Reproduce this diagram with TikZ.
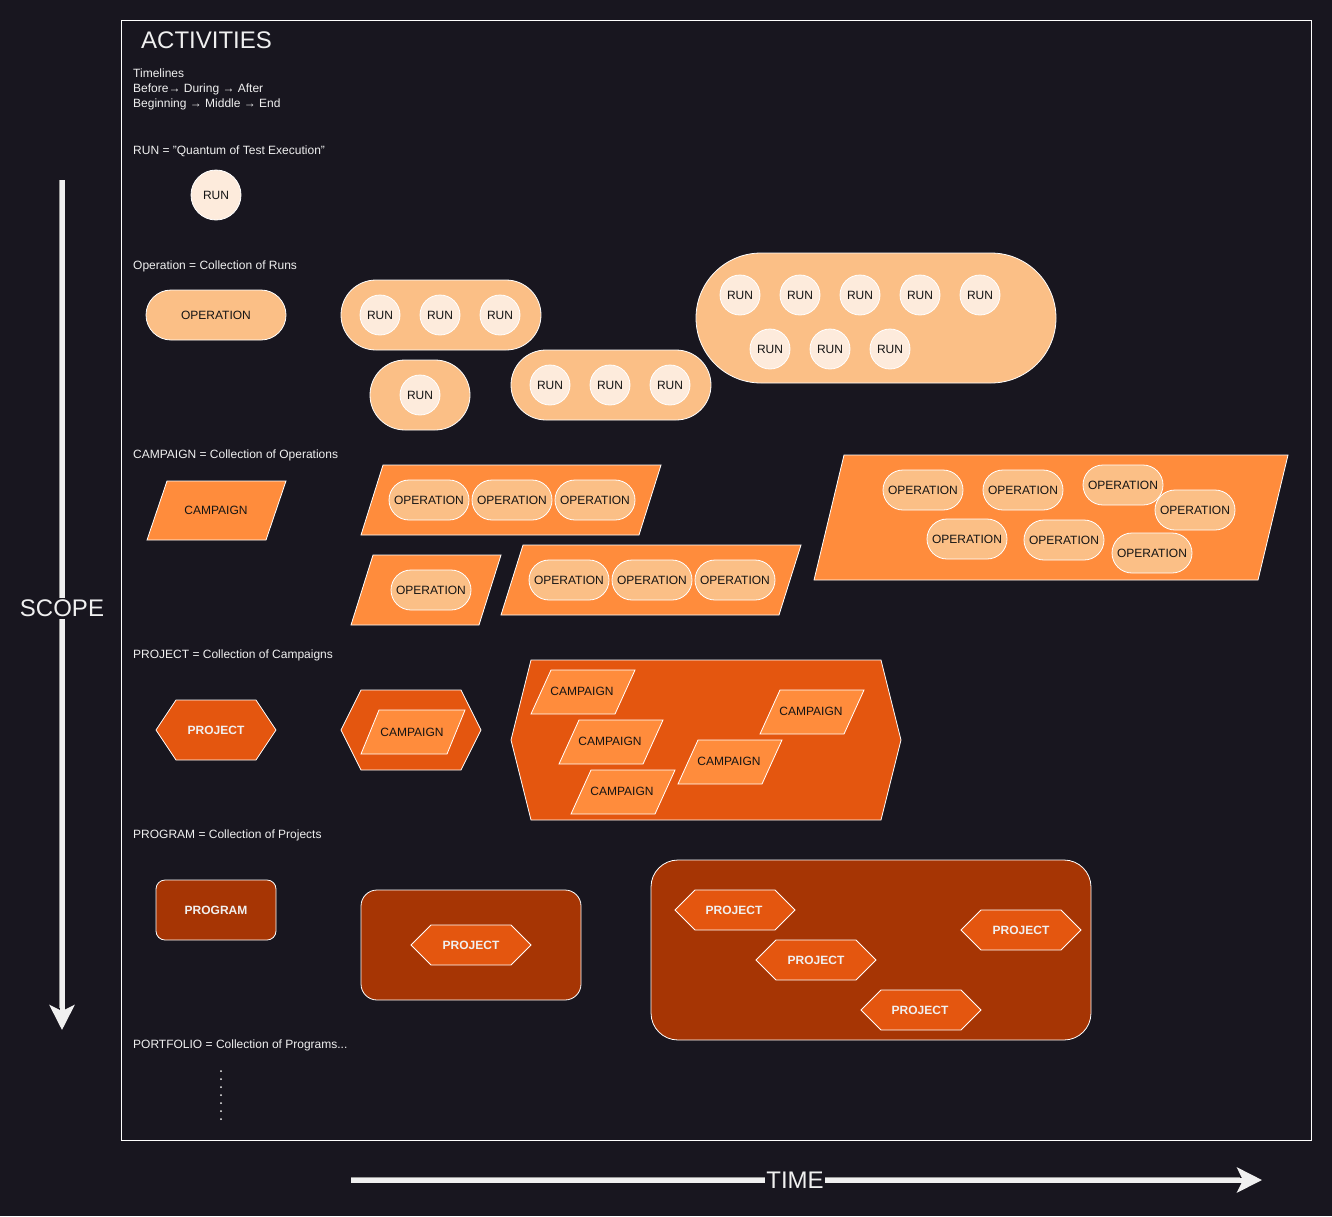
\documentclass[tikz,border=0pt]{standalone}
\usepackage{fontspec}
\setmainfont{Liberation Sans}
\usetikzlibrary{shapes.misc,arrows.meta}
\definecolor{bg}{HTML}{18161F}
\definecolor{fg}{HTML}{F0F0F0}
\definecolor{ink}{HTML}{141414}
\definecolor{runfill}{HTML}{FDEBDC}
\definecolor{opfill}{HTML}{FBBF86}
\definecolor{campfill}{HTML}{FF8C3C}
\definecolor{projfill}{HTML}{E4560F}
\definecolor{progfill}{HTML}{A63504}
\definecolor{edge}{HTML}{9A9A9A}
\tikzset{
  desc/.style={anchor=base west, inner sep=0pt, text=fg, font=\fontsize{12}{15}\selectfont},
  big/.style={inner sep=2pt, text=fg, font=\fontsize{24}{28}\selectfont},
  runc/.style={circle, draw=white, line width=0.8pt, fill=runfill, minimum size=40pt, inner sep=0pt, text=ink, font=\fontsize{12}{14}\selectfont},
  pill/.style={rounded rectangle, draw=white, line width=0.8pt, fill=opfill, inner sep=0pt, text=ink, font=\fontsize{12}{14}\selectfont},
  oppill/.style={pill, minimum width=80pt, minimum height=40pt},
  pgram/.style={draw=white, line width=0.8pt, fill=campfill},
  hexa/.style={draw=white, line width=0.8pt, fill=projfill},
  progbox/.style={draw=white, line width=0.8pt, fill=progfill, inner sep=0pt, text=fg, font=\bfseries\fontsize{12}{14}\selectfont},
  lbl/.style={inner sep=0pt, text=ink, font=\fontsize{12}{14}\selectfont},
  lblw/.style={inner sep=0pt, text=fg, font=\bfseries\fontsize{12}{14}\selectfont},
  axisline/.style={line width=5pt, fg},
  axisedge/.style={line width=6.6pt, edge},
  axisarrow/.style={line width=5pt, fg, -{Stealth[length=25pt, width=25pt, inset=6pt]}},
}
% parallelogram: cx cy w h off
\newcommand{\campshape}[5]{%
  \draw[pgram] ({#1-#3/2+#5},{#2-#4/2}) -- ({#1+#3/2},{#2-#4/2}) -- ({#1+#3/2-#5},{#2+#4/2}) -- ({#1-#3/2},{#2+#4/2}) -- cycle;}
% hexagon: cx cy w h slant
\newcommand{\hexshape}[5]{%
  \draw[hexa] ({#1-#3/2},{#2}) -- ({#1-#3/2+#5},{#2-#4/2}) -- ({#1+#3/2-#5},{#2-#4/2}) -- ({#1+#3/2},{#2}) -- ({#1+#3/2-#5},{#2+#4/2}) -- ({#1-#3/2+#5},{#2+#4/2}) -- cycle;}
\begin{document}
\begin{tikzpicture}[x=1pt,y=-1pt]
\fill[bg] (0,0) rectangle (1332,1216);
\useasboundingbox (0,0) rectangle (1332,1216);

% frame
\node[draw=white, line width=0.9pt, minimum width=1190pt, minimum height=1120pt, inner sep=0pt] (frame) at (716,580) {};

% texts
\node[anchor=base west, inner sep=0pt, text=fg, font=\fontsize{24}{28}\selectfont] (title) at (141,48.5) {ACTIVITIES};
\node[desc] (tl1) at (133,77.5) {Timelines};
\node[desc] (tl2) at (133,92.5) {Before→ During → After};
\node[desc] (tl3) at (133,107.5) {Beginning → Middle → End};
\node[desc] (drun) at (133,154.5) {RUN = "Quantum of Test Execution"};
\node[desc] (dop) at (133,269.5) {Operation = Collection of Runs};
\node[desc] (dcamp) at (133,458.5) {CAMPAIGN = Collection of Operations};
\node[desc] (dproj) at (133,658.5) {PROJECT = Collection of Campaigns};
\node[desc] (dprog) at (133,838.5) {PROGRAM = Collection of Projects};
\node[desc] (dport) at (133,1048.5) {PORTFOLIO = Collection of Programs...};

% RUN
\node[runc, minimum size=50pt] (run0) at (216,195) {RUN};

% OPERATIONS
\node[pill, minimum width=140pt, minimum height=50pt] (op0) at (216,315) {OPERATION};
\node[pill, minimum width=200pt, minimum height=70pt] (op1) at (441,315) {};
\node[runc] (op1a) at (380,315) {RUN};
\node[runc] (op1b) at (440,315) {RUN};
\node[runc] (op1c) at (500,315) {RUN};
\node[pill, minimum width=100pt, minimum height=70pt] (op2) at (420,395) {};
\node[runc] (op2a) at (420,395) {RUN};
\node[pill, minimum width=200pt, minimum height=70pt] (op3) at (611,385) {};
\node[runc] (op3a) at (550,385) {RUN};
\node[runc] (op3b) at (610,385) {RUN};
\node[runc] (op3c) at (670,385) {RUN};
\node[pill, minimum width=360pt, minimum height=130pt] (op4) at (876,318) {};
\node[runc] (op4a) at (740,295) {RUN};
\node[runc] (op4b) at (800,295) {RUN};
\node[runc] (op4c) at (860,295) {RUN};
\node[runc] (op4d) at (920,295) {RUN};
\node[runc] (op4e) at (980,295) {RUN};
\node[runc] (op4f) at (770,349) {RUN};
\node[runc] (op4g) at (830,349) {RUN};
\node[runc] (op4h) at (890,349) {RUN};

% CAMPAIGNS
\campshape{216.5}{510.5}{139}{59}{20}
\node[lbl] (camp0) at (216,510) {CAMPAIGN};
\campshape{511}{500}{300}{70}{22}
\node[oppill] (c1a) at (429,500) {OPERATION};
\node[oppill] (c1b) at (512,500) {OPERATION};
\node[oppill] (c1c) at (595,500) {OPERATION};
\campshape{426}{590}{150}{70}{22}
\node[oppill] (c2a) at (431,590) {OPERATION};
\campshape{651}{580}{300}{70}{22}
\node[oppill] (c3a) at (569,580) {OPERATION};
\node[oppill] (c3b) at (652,580) {OPERATION};
\node[oppill] (c3c) at (735,580) {OPERATION};
\campshape{1051}{517.5}{474}{125}{30}
\node[oppill] (c4a) at (923,490) {OPERATION};
\node[oppill] (c4b) at (1023,490) {OPERATION};
\node[oppill] (c4c) at (1123,485) {OPERATION};
\node[oppill] (c4d) at (1195,510) {OPERATION};
\node[oppill] (c4e) at (967,539) {OPERATION};
\node[oppill] (c4f) at (1064,540) {OPERATION};
\node[oppill] (c4g) at (1152,553) {OPERATION};

% PROJECTS
\hexshape{216}{730}{120}{60}{20}
\node[lblw] (proj0) at (216,730) {PROJECT};
\hexshape{411}{730}{140}{80}{20}
\campshape{413}{732}{104}{44}{18}
\node[lbl] (p1a) at (412,732) {CAMPAIGN};
\hexshape{706}{740}{390}{160}{20}
\campshape{583}{692}{104}{44}{20}
\node[lbl] (p2a) at (582,691) {CAMPAIGN};
\campshape{611}{742}{104}{44}{20}
\node[lbl] (p2b) at (610,741) {CAMPAIGN};
\campshape{623}{792}{104}{44}{20}
\node[lbl] (p2c) at (622,791) {CAMPAIGN};
\campshape{730}{762}{104}{44}{20}
\node[lbl] (p2d) at (729,761) {CAMPAIGN};
\campshape{812}{712}{104}{44}{20}
\node[lbl] (p2e) at (811,711) {CAMPAIGN};

% PROGRAMS
\node[progbox, rounded corners=9pt, minimum width=120pt, minimum height=60pt] (prog0) at (216,910) {PROGRAM};
\node[progbox, rounded corners=16pt, minimum width=220pt, minimum height=110pt] (prog1) at (471,945) {};
\hexshape{471}{945}{120}{40}{20}
\node[lblw] (g1a) at (471,945) {PROJECT};
\node[progbox, rounded corners=27pt, minimum width=440pt, minimum height=180pt] (prog2) at (871,950) {};
\hexshape{735}{910}{120}{40}{20}
\node[lblw] (g2a) at (734,910) {PROJECT};
\hexshape{816}{960}{120}{40}{20}
\node[lblw] (g2b) at (816,960) {PROJECT};
\hexshape{921}{1010}{120}{40}{20}
\node[lblw] (g2c) at (920,1010) {PROJECT};
\hexshape{1021}{930}{120}{40}{20}
\node[lblw] (g2d) at (1021,930) {PROJECT};

% PORTFOLIO dots
\coordinate (dotA) at (221,1071);
\coordinate (dotB) at (221,1122);
\draw[fg!80, line width=2pt, line cap=round, dash pattern=on 0pt off 8pt] (dotA) -- (dotB);

% SCOPE axis
\coordinate (scopeA) at (62,180);
\coordinate (scopeB) at (62,1030);
\coordinate (scopeE) at (62,1008);
\draw[axisedge] (scopeA) -- (scopeE);
\draw[axisarrow] (scopeA) -- (scopeB);
\node[big, fill=bg] (scope) at (62,608) {SCOPE};

% TIME axis
\coordinate (timeA) at (351,1180);
\coordinate (timeB) at (1262,1180);
\coordinate (timeE) at (1240,1180);
\draw[axisedge] (timeA) -- (timeE);
\draw[axisarrow] (timeA) -- (timeB);
\node[big, fill=bg, inner sep=1pt] (time) at (795,1180) {TIME};
\end{tikzpicture}
\end{document}
